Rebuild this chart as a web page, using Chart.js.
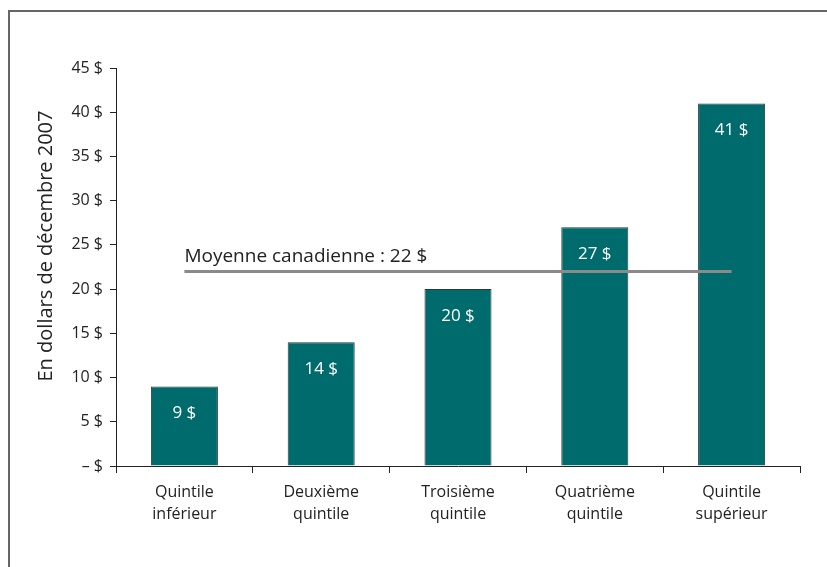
<!DOCTYPE html>
<html>
<head>
<meta charset="utf-8">
<script src="https://cdn.jsdelivr.net/npm/chart.js@4/dist/chart.umd.min.js"></script>
<style>
  html, body { margin: 0; padding: 0; background: #fff; }
  #wrap { position: relative; width: 827px; height: 567px; overflow: hidden; }
  #frame { position: absolute; left: 8px; top: 10px; width: 900px; height: 700px;
           border-left: 2px solid #666; border-top: 2px solid #666; }
  #chart { position: absolute; left: 0; top: 0; }
</style>
</head>
<body>
<div id="wrap">
  <div id="frame"></div>
  <canvas id="chart" width="827" height="567"></canvas>
</div>
<script>
const categories = [
  ["Quintile", "inférieur"],
  ["Deuxième", "quintile"],
  ["Troisième", "quintile"],
  ["Quatrième", "quintile"],
  ["Quintile", "supérieur"]
]
const values = [9, 14, 20, 27, 41]
const barLabels = ["9 $", "14 $", "20 $", "27 $", "41 $"]
const averageValue = 22
const averageLabel = "Moyenne canadienne : 22 $"
const yTicks = [0, 5, 10, 15, 20, 25, 30, 35, 40, 45]
const yTitle = "En dollars de décembre 2007"

const FONT = "'Open Sans', 'Noto Sans', sans-serif"

const labelsPlugin = {
  id: 'bar_value_labels',
  afterDatasetsDraw: (chart) => {
    const {ctx} = chart
    const meta = chart.getDatasetMeta(1)
    ctx.save()
    ctx.fillStyle = '#ffffff'
    ctx.font = '17px ' + FONT
    ctx.textAlign = 'center'
    ctx.textBaseline = 'middle'
    meta.data.forEach((bar, i) => {
      ctx.fillText(barLabels[i], bar.x, bar.y + 27)
    })
    // average label
    const xs = chart.scales.x
    const ys = chart.scales.y
    ctx.fillStyle = '#222'
    ctx.font = '19px ' + FONT
    ctx.textAlign = 'left'
    ctx.textBaseline = 'alphabetic'
    ctx.fillText(averageLabel, xs.getPixelForValue(0), ys.getPixelForValue(averageValue) - 9)
    // y title
    ctx.translate(46, 246)
    ctx.rotate(-Math.PI / 2)
    ctx.font = '20px ' + FONT
    ctx.textAlign = 'center'
    ctx.textBaseline = 'middle'
    ctx.fillText(yTitle, 0, 0)
    ctx.restore()
  }
}

new Chart(document.getElementById('chart'), {
  data: {
    labels: categories,
    datasets: [
      {
        type: 'line',
        data: categories.map(() => averageValue),
        borderColor: '#8a8a8a',
        borderWidth: 3,
        pointRadius: 0,
        order: 0
      },
      {
        type: 'bar',
        data: values,
        backgroundColor: '#006b6c',
        borderColor: '#2a3a3a',
        borderWidth: 1,
        barPercentage: 0.49,
        categoryPercentage: 1,
        order: 1
      }
    ]
  },
  options: {
    responsive: false,
    animation: false,
    layout: { padding: { top: 68, right: 27, left: 0, bottom: 0 } },
    plugins: { legend: { display: false }, tooltip: { enabled: false } },
    scales: {
      x: {
        offset: true,
        grid: { offset: true, drawOnChartArea: false, tickLength: 7, color: '#222', tickColor: '#222' },
        border: { display: true, color: '#222', width: 1 },
        ticks: { color: '#222', font: { family: FONT, size: 16, lineHeight: 1.35 }, padding: 9, maxRotation: 0 },
        afterFit: (scale) => { scale.height = 101 }
      },
      y: {
        min: 0,
        max: 45,
        afterBuildTicks: (scale) => { scale.ticks = yTicks.map(v => ({ value: v })) },
        grid: { drawOnChartArea: false, tickLength: 6, color: '#222', tickColor: '#222' },
        border: { display: true, color: '#222', width: 1 },
        ticks: {
          color: '#222',
          font: { family: FONT, size: 16 },
          padding: 7,
          callback: (v) => v === 0 ? '\u2013 $' : v + ' $'
        },
        afterFit: (scale) => { scale.width = 116 }
      }
    }
  },
  plugins: [labelsPlugin]
})
</script>
</body>
</html>
